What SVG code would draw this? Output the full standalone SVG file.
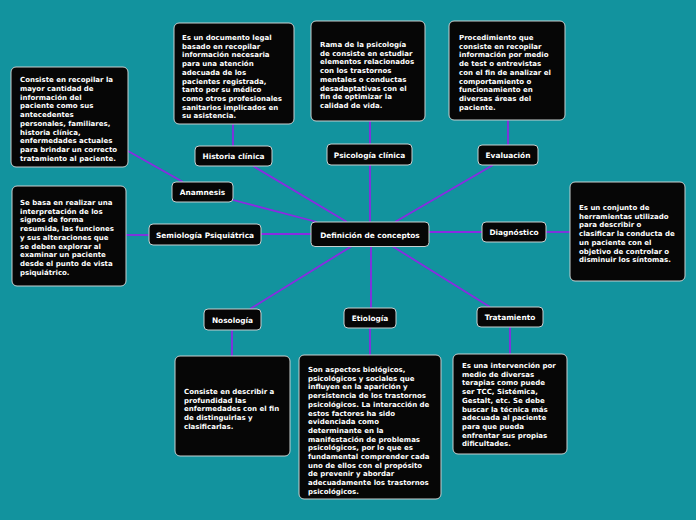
<svg xmlns="http://www.w3.org/2000/svg" width="696" height="520" viewBox="0 0 696 520">
<style>
.bg{fill:#12939e}
.box{fill:#060606;stroke:#c8d0d0;stroke-width:1}
.lbl{font-family:"DejaVu Sans",Verdana,sans-serif;font-weight:bold;font-size:7.4px;fill:#ffffff;text-anchor:middle}
.txt{font-family:"DejaVu Sans",Verdana,sans-serif;font-weight:bold;font-size:7px;fill:#ffffff}
.con line{stroke:#8a2be2;stroke-width:1.8}
</style>
<rect class="bg" x="0" y="0" width="696" height="520"/>
<g id="connectors" class="con">
<line x1="347" y1="222" x2="253" y2="166"/>
<line x1="317" y1="222" x2="233" y2="200"/>
<line x1="370" y1="222" x2="370" y2="165"/>
<line x1="395" y1="222" x2="493" y2="165"/>
<line x1="311" y1="234" x2="261" y2="234"/>
<line x1="429" y1="232" x2="482" y2="232"/>
<line x1="352" y1="246" x2="250" y2="309"/>
<line x1="371" y1="246" x2="371" y2="308"/>
<line x1="392" y1="246" x2="490" y2="307"/>
<line x1="183" y1="182" x2="128" y2="151"/>
<line x1="233" y1="146" x2="233" y2="124"/>
<line x1="370" y1="144" x2="370" y2="121"/>
<line x1="508" y1="145" x2="508" y2="120"/>
<line x1="149" y1="235" x2="126" y2="235"/>
<line x1="546" y1="232" x2="570" y2="232"/>
<line x1="232" y1="330" x2="232" y2="356"/>
<line x1="370" y1="328" x2="370" y2="355"/>
<line x1="510" y1="327" x2="510" y2="354"/>
</g>
<g id="n-central"><rect class="box" x="311" y="222" width="118" height="24.5" rx="4"/><text class="lbl" x="370" y="237.5">Definición de conceptos</text></g>
<g id="n-historia"><rect class="box" x="195" y="146" width="77" height="20" rx="4"/><text class="lbl" x="233.5" y="159">Historia clínica</text></g>
<g id="n-psicologia"><rect class="box" x="327" y="144" width="85" height="21" rx="4"/><text class="lbl" x="369.5" y="157.5">Psicología clínica</text></g>
<g id="n-anamnesis"><rect class="box" x="172" y="182" width="61" height="20" rx="4"/><text class="lbl" x="202.5" y="195">Anamnesis</text></g>
<g id="n-semiologia"><rect class="box" x="149" y="224" width="112" height="21" rx="4"/><text class="lbl" x="205" y="237.5">Semiología Psiquiátrica</text></g>
<g id="n-evaluacion"><rect class="box" x="478" y="145" width="60" height="20" rx="4"/><text class="lbl" x="508" y="158">Evaluación</text></g>
<g id="n-diagnostico"><rect class="box" x="482" y="222" width="64" height="20" rx="4"/><text class="lbl" x="514" y="235">Diagnóstico</text></g>
<g id="n-nosologia"><rect class="box" x="204" y="309" width="57" height="21" rx="4"/><text class="lbl" x="232.5" y="322.5">Nosología</text></g>
<g id="n-etiologia"><rect class="box" x="344" y="308" width="52" height="20" rx="4"/><text class="lbl" x="370" y="321">Etiología</text></g>
<g id="n-tratamiento"><rect class="box" x="477" y="307" width="66" height="20" rx="4"/><text class="lbl" x="510" y="320">Tratamiento</text></g>

<g id="d-anamnesis"><rect class="box" x="11" y="67" width="117" height="100" rx="5"/>
<text class="txt" x="20" y="82"><tspan x="20">Consiste en recopilar la</tspan><tspan x="20" dy="8.75">mayor cantidad de</tspan><tspan x="20" dy="8.75">información del</tspan><tspan x="20" dy="8.75">paciente como sus</tspan><tspan x="20" dy="8.75">antecedentes</tspan><tspan x="20" dy="8.75">personales, familiares,</tspan><tspan x="20" dy="8.75">historia clínica,</tspan><tspan x="20" dy="8.75">enfermedades actuales</tspan><tspan x="20" dy="8.75">para brindar un correcto</tspan><tspan x="20" dy="8.75">tratamiento al paciente.</tspan></text></g>

<g id="d-historia"><rect class="box" x="174" y="23" width="120" height="101" rx="5"/>
<text class="txt" x="182" y="40"><tspan x="182">Es un documento legal</tspan><tspan x="182" dy="8.7">basado en recopilar</tspan><tspan x="182" dy="8.7">información necesaria</tspan><tspan x="182" dy="8.7">para una atención</tspan><tspan x="182" dy="8.7">adecuada de los</tspan><tspan x="182" dy="8.7">pacientes registrada,</tspan><tspan x="182" dy="8.7">tanto por su médico</tspan><tspan x="182" dy="8.7">como otros profesionales</tspan><tspan x="182" dy="8.7">sanitarios implicados en</tspan><tspan x="182" dy="8.7">su asistencia.</tspan></text></g>

<g id="d-psicologia"><rect class="box" x="311" y="21" width="114" height="100" rx="5"/>
<text class="txt" x="320" y="47"><tspan x="320">Rama de la psicología</tspan><tspan x="320" dy="8.7">de consiste en estudiar</tspan><tspan x="320" dy="8.7">elementos relacionados</tspan><tspan x="320" dy="8.7">con los trastornos</tspan><tspan x="320" dy="8.7">mentales o conductas</tspan><tspan x="320" dy="8.7">desadaptativas con el</tspan><tspan x="320" dy="8.7">fin de optimizar la</tspan><tspan x="320" dy="8.7">calidad de vida.</tspan></text></g>

<g id="d-evaluacion"><rect class="box" x="449" y="21" width="116" height="99" rx="5"/>
<text class="txt" x="459" y="40"><tspan x="459">Procedimiento que</tspan><tspan x="459" dy="8.7">consiste en recopilar</tspan><tspan x="459" dy="8.7">información por medio</tspan><tspan x="459" dy="8.7">de test o entrevistas</tspan><tspan x="459" dy="8.7">con el fin de analizar el</tspan><tspan x="459" dy="8.7">comportamiento o</tspan><tspan x="459" dy="8.7">funcionamiento en</tspan><tspan x="459" dy="8.7">diversas áreas del</tspan><tspan x="459" dy="8.7">paciente.</tspan></text></g>

<g id="d-semiologia"><rect class="box" x="12" y="186" width="114" height="100" rx="5"/>
<text class="txt" x="20" y="205"><tspan x="20">Se basa en realizar una</tspan><tspan x="20" dy="8.7">interpretación de los</tspan><tspan x="20" dy="8.7">signos de forma</tspan><tspan x="20" dy="8.7">resumida, las funciones</tspan><tspan x="20" dy="8.7">y sus alteraciones que</tspan><tspan x="20" dy="8.7">se deben explorar al</tspan><tspan x="20" dy="8.7">examinar un paciente</tspan><tspan x="20" dy="8.7">desde el punto de vista</tspan><tspan x="20" dy="8.7">psiquiátrico.</tspan></text></g>

<g id="d-diagnostico"><rect class="box" x="570" y="182" width="115" height="99" rx="5"/>
<text class="txt" x="579" y="210"><tspan x="579">Es un conjunto de</tspan><tspan x="579" dy="8.7">herramientas utilizado</tspan><tspan x="579" dy="8.7">para describir o</tspan><tspan x="579" dy="8.7">clasificar la conducta de</tspan><tspan x="579" dy="8.7">un paciente con el</tspan><tspan x="579" dy="8.7">objetivo de controlar o</tspan><tspan x="579" dy="8.7">disminuir los síntomas.</tspan></text></g>

<g id="d-nosologia"><rect class="box" x="175" y="356" width="115" height="100" rx="5"/>
<text class="txt" x="184" y="394"><tspan x="184">Consiste en describir a</tspan><tspan x="184" dy="8.7">profundidad las</tspan><tspan x="184" dy="8.7">enfermedades con el fin</tspan><tspan x="184" dy="8.7">de distinguirlas y</tspan><tspan x="184" dy="8.7">clasificarlas.</tspan></text></g>

<g id="d-etiologia"><rect class="box" x="299" y="355" width="142" height="144" rx="5"/>
<text class="txt" x="308" y="372"><tspan x="308">Son aspectos biológicos,</tspan><tspan x="308" dy="8.7">psicológicos y sociales que</tspan><tspan x="308" dy="8.7">influyen en la aparición y</tspan><tspan x="308" dy="8.7">persistencia de los trastornos</tspan><tspan x="308" dy="8.7">psicológicos. La interacción de</tspan><tspan x="308" dy="8.7">estos factores ha sido</tspan><tspan x="308" dy="8.7">evidenciada como</tspan><tspan x="308" dy="8.7">determinante en la</tspan><tspan x="308" dy="8.7">manifestación de problemas</tspan><tspan x="308" dy="8.7">psicológicos, por lo que es</tspan><tspan x="308" dy="8.7">fundamental comprender cada</tspan><tspan x="308" dy="8.7">uno de ellos con el propósito</tspan><tspan x="308" dy="8.7">de prevenir y abordar</tspan><tspan x="308" dy="8.7">adecuadamente los trastornos</tspan><tspan x="308" dy="8.7">psicológicos.</tspan></text></g>

<g id="d-tratamiento"><rect class="box" x="453" y="354" width="114" height="100" rx="5"/>
<text class="txt" x="462" y="368"><tspan x="462">Es una intervención por</tspan><tspan x="462" dy="8.7">medio de diversas</tspan><tspan x="462" dy="8.7">terapias como puede</tspan><tspan x="462" dy="8.7">ser TCC, Sistémica,</tspan><tspan x="462" dy="8.7">Gestalt, etc. Se debe</tspan><tspan x="462" dy="8.7">buscar la técnica más</tspan><tspan x="462" dy="8.7">adecuada al paciente</tspan><tspan x="462" dy="8.7">para que pueda</tspan><tspan x="462" dy="8.7">enfrentar sus propias</tspan><tspan x="462" dy="8.7">dificultades.</tspan></text></g>
</svg>
